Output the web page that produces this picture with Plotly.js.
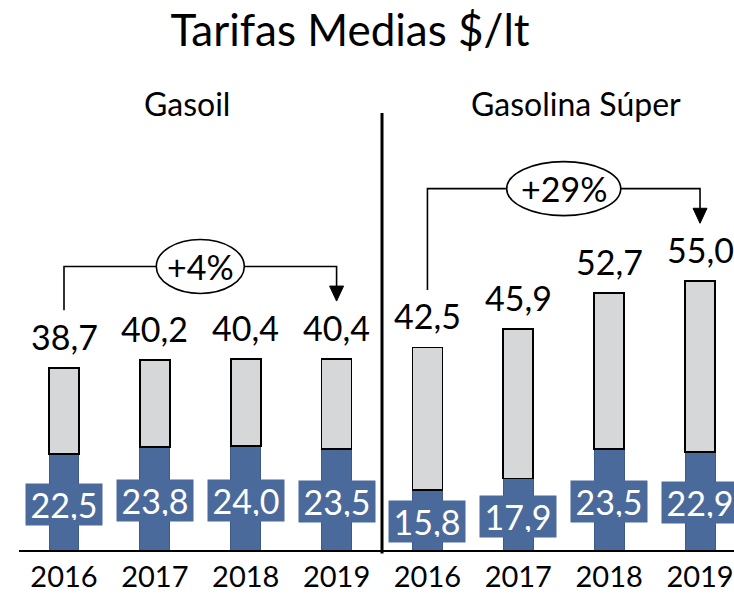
<!DOCTYPE html>
<html>
<head>
<meta charset="utf-8">
<script src="https://cdn.plot.ly/plotly-3.0.1.min.js"></script>
<style>html,body{margin:0;padding:0;background:#fff;}#chart{width:734px;height:595px;}</style>
</head>
<body>
<div id="chart"></div>
<script>
// ---- data ----
const years = ["2016", "2017", "2018", "2019", "2016", "2017", "2018", "2019"];
const groups = ["Gasoil", "Gasolina Súper"];
const totalGasoil = [38.7, 40.2, 40.4, 40.4];
const lowerGasoil = [22.5, 23.8, 24.0, 23.5];
const totalSuper = [42.5, 45.9, 52.7, 55.0];
const lowerSuper = [15.8, 17.9, 23.5, 22.9];
const changes = ["+4%", "+29%"];

// ---- build ----
const totals = totalGasoil.concat(totalSuper);
const lowers = lowerGasoil.concat(lowerSuper);
const xs = years.map((_, i) => i);
const uppers = totals.map((t, i) => +(t - lowers[i]).toFixed(1));
const fmt = v => v.toFixed(1).replace('.', ',');

const FONT = 'Lato, "Open Sans", sans-serif';
const BLUE = '#4A6A9B';
const GRAY = '#D6D7D9';

const traces = [
  {type: 'bar', x: xs, y: lowers, width: 0.33,
   marker: {color: BLUE, line: {color: '#3E5B87', width: 1}}, hoverinfo: 'skip'},
  {type: 'bar', x: xs, y: uppers, width: 0.33,
   marker: {color: GRAY, line: {color: '#000', width: 1.8}}, hoverinfo: 'skip'}
];

const annotations = [];
const shapes = [];
xs.forEach(i => {
  annotations.push({x: i, y: totals[i], xref: 'x', yref: 'y', text: fmt(totals[i]),
    showarrow: false, yanchor: 'bottom', yshift: 9,
    font: {family: FONT, size: 34, color: '#000'}});
  annotations.push({x: i, y: lowers[i] / 2, xref: 'x', yref: 'y', text: fmt(lowers[i]),
    showarrow: false, yanchor: 'middle', yshift: 10, bgcolor: BLUE, width: 66, height: 31, borderpad: 5,
    font: {family: FONT, size: 34, color: '#fff'}});
});

// brackets
const groupTotals = [totalGasoil, totalSuper];
groupTotals.forEach((g, k) => {
  const first = k * 4, last = k * 4 + 3;
  const level = Math.max(...g) + 17.3;
  const yStart = g[0] + 10.8;
  const yTip = g[3] + 10.8;
  shapes.push({type: 'path', xref: 'x', yref: 'y',
    path: `M ${first} ${yStart} L ${first} ${level} L ${last} ${level} L ${last} ${yTip + 2.6}`,
    line: {color: '#000', width: 1.6}});
  // arrowhead
  shapes.push({type: 'path', xref: 'x', yref: 'y', xsizemode: 'pixel', ysizemode: 'pixel',
    xanchor: last, yanchor: yTip,
    path: 'M -7 15 L 7 15 L 0 0 Z', fillcolor: '#000', line: {color: '#000', width: 1}});
  // ellipse
  const cx = (first + last) / 2;
  const w = k === 0 ? 44 : 57;
  shapes.push({type: 'circle', xref: 'x', yref: 'y', xsizemode: 'pixel', ysizemode: 'pixel',
    xanchor: cx, yanchor: level, x0: -w, x1: w, y0: -27, y1: 27,
    fillcolor: '#fff', line: {color: '#000', width: 1.6}});
  annotations.push({x: cx, y: level, xref: 'x', yref: 'y', text: changes[k], showarrow: false,
    yanchor: 'middle', font: {family: FONT, size: 34, color: '#000'}});
});

// group headers (pixel positions converted to paper)
const headerX = [187, 576];
groups.forEach((g, k) => {
  annotations.push({x: (headerX[k] - 19) / 715, y: (595 - 45 - 104) / 450, xref: 'paper', yref: 'paper',
    text: g, showarrow: false, xanchor: 'center', yanchor: 'middle',
    font: {family: FONT, size: 32, color: '#000'}});
});

// divider
shapes.push({type: 'line', xref: 'x', yref: 'paper', x0: 3.5, x1: 3.5, y0: -0.008, y1: (550 - 113) / 450,
  line: {color: '#000', width: 3}});

const layout = {
  width: 734, height: 595,
  margin: {l: 19, r: 0, t: 100, b: 45},
  paper_bgcolor: '#fff', plot_bgcolor: '#fff',
  barmode: 'stack', showlegend: false,
  title: {text: 'Tarifas Medias $/lt', x: 350 / 734, xref: 'container', xanchor: 'center',
    y: 1 - 31 / 595, yref: 'container', yanchor: 'middle',
    font: {family: FONT, size: 44, color: '#000'}},
  xaxis: {range: [-0.4953, 7.374], tickvals: xs, ticktext: years, showgrid: false, zeroline: false,
    showline: true, linecolor: '#000', linewidth: 2, ticks: '', fixedrange: true,
    tickfont: {family: FONT, size: 29, color: '#000'}},
  yaxis: {range: [4.5, 4.5 + 450 / 5.33], visible: false, showgrid: false, zeroline: false, fixedrange: true},
  annotations: annotations,
  shapes: shapes
};

Plotly.newPlot('chart', traces, layout, {displayModeBar: false, staticPlot: true});
</script>
</body>
</html>
